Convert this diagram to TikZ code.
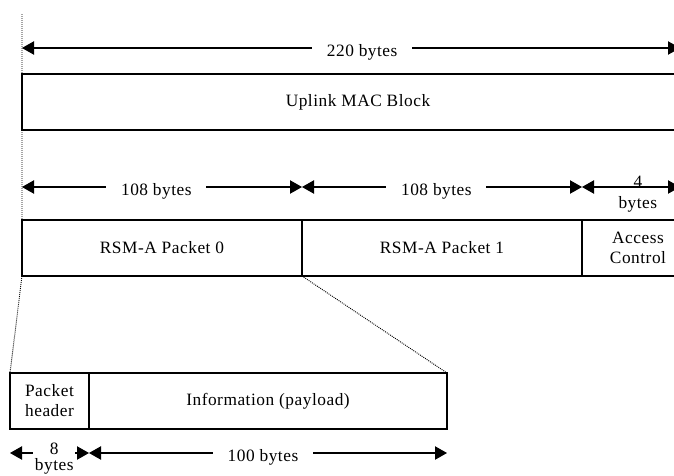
\documentclass[tikz,border=0pt]{standalone}
\usepackage{fontspec}
\setmainfont{Liberation Serif}[LetterSpace=3]
\usetikzlibrary{arrows.meta, positioning}
\tikzstyle{field} = [rectangle, draw=black, line width=0.8pt, outer sep=0pt, minimum height=42pt, inner sep=0pt, align=center, font=\fontsize{13}{15}\selectfont]
\tikzstyle{dimlabel} = [fill=white, minimum width=75pt, inner sep=0pt, yshift=-3pt, font=\fontsize{13}{15}\selectfont]
\tikzstyle{arrow} = [line width=0.8pt, {Triangle[length=9pt,width=10pt]}-{Triangle[length=9pt,width=10pt]}]
\tikzstyle{zoomline} = [line width=0.7pt, dash pattern=on 0.7pt off 0.8pt]

\begin{document}
\begin{tikzpicture}[x=0.75pt, y=-0.75pt]
\useasboundingbox (0,0) rectangle (674,475);
% uplink block and its fields
\node (mac) [field, minimum width=504pt] at (358,102) {Uplink MAC Block};
\node (pkt0) [field, minimum width=210pt] at (162,248) {RSM-A Packet 0};
\node (pkt1) [field, minimum width=210pt, right=0pt of pkt0] {RSM-A Packet 1};
\node (acc) [field, minimum width=84pt, right=0pt of pkt1] {Access\\Control};
% packet 0 in detail
\node (hdr) [field, minimum width=59.25pt] at (49.5,401) {Packet\\header};
\node (pay) [field, minimum width=268.5pt, right=0pt of hdr] {Information (payload)};
% ends of the size arrows
\coordinate (top) at (22,14);
\coordinate (s220) at (22,48);
\coordinate (e220) at (680,48);
\coordinate (a0) at (22,187);
\coordinate (a1) at (302,187);
\coordinate (a2) at (582,187);
\coordinate (a3) at (680,187);
\coordinate (b0) at (10,453);
\coordinate (b1) at (89,453);
\coordinate (b2) at (447,453);
\draw [arrow] (s220) -- node[dimlabel, pos=0.517] {220 bytes} (e220);
\draw [arrow] (a0) -- node[dimlabel, pos=0.48] {108 bytes} (a1);
\draw [arrow] (a1) -- node[dimlabel, pos=0.48] {108 bytes} (a2);
\draw [arrow] (a2) -- node[pos=0.57, yshift=-5pt, inner sep=0pt, align=center, font=\fontsize{13}{15.75}\selectfont] {4\\bytes} (a3);
\draw [arrow] (b0) -- node[pos=0.56, yshift=-4.5pt, fill=white, minimum width=31.5pt, inner sep=0pt, align=center, font=\fontsize{13}{12}\selectfont] {8\\bytes} (b1);
\draw [arrow] (b1) -- node[dimlabel, pos=0.486] {100 bytes} (b2);
% zoom lines
\draw [zoomline] (top) -- (pkt0.south west) -- (hdr.north west);
\draw [zoomline] (pkt0.south east) -- (pay.north east);
\end{tikzpicture}
\end{document}
